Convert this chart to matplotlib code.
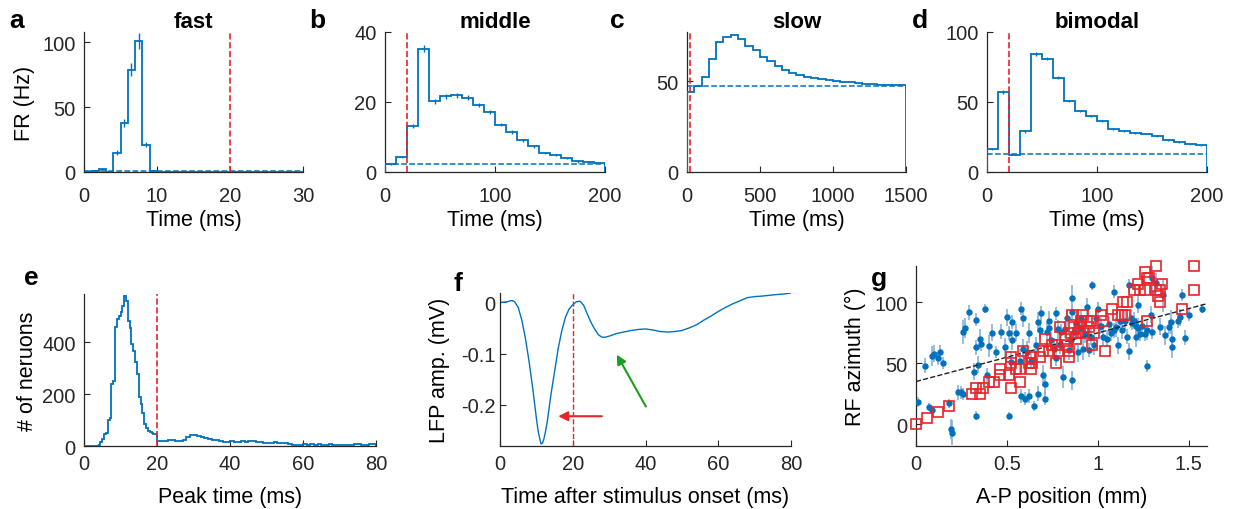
import numpy as np
import matplotlib
matplotlib.use('Agg')
import matplotlib.pyplot as plt

BLUE = '#0072BD'
RED = '#E8242A'
ERRBLUE = '#86B2D8'
AXCOL = '#262626'

# ---- panel a: fast (1 ms bins, 0-30 ms)
FAST_EDGES = np.arange(0, 31, 1)
FAST_FR = [0, 1, 2, 0, 15, 38, 79, 101, 21, 1] + [0] * 20
FAST_ERR = [0, 0.5, 0.8, 0, 2, 3, 5, 6, 2, 0.5] + [0] * 20
FAST_BASE = 0.4

# ---- panel b: middle (10 ms bins, 0-200 ms)
MID_EDGES = np.arange(0, 201, 10)
MID_FR = [2.4, 4.3, 13.1, 35.2, 20.2, 21.6, 21.9, 21.2, 19.2, 17.1,
          13.5, 11.4, 9.0, 7.3, 5.5, 4.8, 4.0, 3.0, 2.9, 2.7]
MID_ERR = [0.3, 0.4, 0.6, 1.0, 0.7, 0.7, 0.7, 0.7, 0.6, 0.6,
           0.5, 0.5, 0.4, 0.4, 0.3, 0.3, 0.3, 0.3, 0.2, 0.2]
MID_BASE = 2.4

# ---- panel c: slow (50 ms bins, 0-1500 ms)
SLOW_EDGES = np.arange(0, 1501, 50)
SLOW_FR = [44.0, 47.3, 52.4, 62.2, 71.5, 74.5, 75.6, 73.1, 69.5, 66.9,
           63.3, 60.9, 58.5, 56.0, 54.2, 53.1, 52.2, 51.5, 50.9, 50.4,
           49.8, 49.6, 49.4, 49.1, 48.6, 48.2, 48.0, 47.9, 47.8, 47.6]
SLOW_BASE = 47.3

# ---- panel d: bimodal (10 ms bins, 0-200 ms)
BI_EDGES = np.arange(0, 201, 10)
BI_FR = [16.2, 57.1, 12.4, 29.0, 84.5, 81.0, 67.4, 50.7, 43.6, 39.8,
         36.2, 31.0, 29.3, 28.1, 27.4, 25.7, 22.9, 21.4, 19.8, 19.0]
BI_ERR = [0.8, 1.2, 0.6, 0.9, 1.4, 1.3, 1.2, 1.0, 0.9, 0.8,
          0.8, 0.7, 0.7, 0.7, 0.6, 0.6, 0.6, 0.6, 0.5, 0.5]
BI_BASE = 12.9

# ---- panel e: peak time histogram
PEAK_EDGES = np.concatenate([np.arange(0, 20, 0.5), np.arange(20, 81, 1)])
PEAK_N = ([0] * 8 +
          [5, 15, 28, 45, 50, 100, 108, 240, 250, 460,
           490, 500, 515, 540, 578, 560, 480, 455, 392, 367,
           322, 277, 187, 162, 129, 85, 69, 59, 55, 52,
           48, 45] +
          [18, 20, 19, 22, 24, 21, 20, 23, 35, 42,
           41, 38, 33, 30, 27, 24, 22, 20, 17, 15,
           18, 16, 17, 19, 17, 20, 18, 15, 14, 13,
           12, 12, 14, 11, 12, 10, 8, 5, 4, 5,
           6, 5, 6, 4, 6, 5, 4, 7, 5, 3,
           2, 3, 2, 3, 6, 8, 4, 5, 6, 8])

# ---- panel f: mean LFP
LFP_T = [0, 1, 2, 3, 3.5, 4, 5, 6, 7, 8, 9, 10, 10.5, 11, 11.3, 11.7, 12, 12.5, 13, 14,
         15, 16, 17, 18, 19, 20, 21, 22, 23, 24, 25, 26, 27, 28, 29, 30,
         32, 34, 36, 38, 40, 42, 44, 46, 48, 50, 52, 54, 56, 58, 60,
         62, 64, 66, 68, 70, 72, 74, 76, 78, 80]
LFP_MV = [0, 0, 0.001, 0.003, 0.003, 0.001, -0.01, -0.035, -0.071, -0.116, -0.168, -0.226,
          -0.252, -0.268, -0.276, -0.274, -0.268, -0.252, -0.232, -0.18,
          -0.135, -0.09, -0.055, -0.029, -0.013, -0.005, 0.001, 0.002, -0.006, -0.023,
          -0.039, -0.052, -0.063, -0.068, -0.068, -0.066,
          -0.061, -0.058, -0.055, -0.053, -0.052, -0.054, -0.057, -0.058, -0.057, -0.055,
          -0.05, -0.044, -0.035, -0.027, -0.018,
          -0.010, -0.003, 0.003, 0.009, 0.011, 0.012, 0.0135, 0.015, 0.016, 0.018]

# ---- panel g: RF azimuth vs A-P position
AP_X = [0.01, 0.05, 0.07, 0.09, 0.09, 0.10, 0.12, 0.13, 0.15, 0.18,
        0.19, 0.20, 0.23, 0.25, 0.26, 0.26, 0.27, 0.29, 0.32, 0.33,
        0.33, 0.33, 0.34, 0.35, 0.36, 0.38, 0.39, 0.40, 0.42, 0.44,
        0.47, 0.49, 0.50, 0.51, 0.51, 0.52, 0.53, 0.53, 0.55, 0.57,
        0.58, 0.58, 0.59, 0.59, 0.60, 0.61, 0.62, 0.62, 0.63, 0.65,
        0.66, 0.67, 0.67, 0.68, 0.69, 0.70, 0.71, 0.71, 0.72, 0.73,
        0.73, 0.74, 0.76, 0.77, 0.77, 0.78, 0.79, 0.80, 0.81, 0.82,
        0.83, 0.84, 0.85, 0.86, 0.86, 0.86, 0.87, 0.88, 0.89, 0.90,
        0.91, 0.92, 0.93, 0.94, 0.95, 0.96, 0.97, 0.98, 0.99, 1.00,
        1.01, 1.02, 1.03, 1.05, 1.06, 1.07, 1.09, 1.09, 1.10, 1.11,
        1.12, 1.13, 1.15, 1.16, 1.17, 1.17, 1.18, 1.19, 1.20, 1.21,
        1.21, 1.22, 1.22, 1.23, 1.24, 1.26, 1.27, 1.27, 1.30, 1.29,
        1.30, 1.32, 1.34, 1.36, 1.37, 1.39, 1.40, 1.41, 1.41, 1.44,
        1.45, 1.46, 1.48, 1.50, 1.57]
AP_AZ = [18, 48, 14, 12, 56, 58, 54, 59, 50, 17,
         -4, -7, 26, 26, 25, 76, 79, 92, 43, 86,
         63, 7, 49, 70, 66, 95, 40, 64, 75, 59,
         76, 63, 88, 75, 7, 51, 84, 69, 75, 52,
         23, 95, 62, 87, 21, 59, 23, 75, 52, 15,
         65, 25, 84, 77, 91, 40, 33, 21, 76, 79,
         85, 69, 62, 54, 91, 78, 65, 76, 39, 78,
         87, 61, 69, 104, 36, 92, 76, 83, 59, 79,
         87, 62, 74, 96, 61, 72, 114, 65, 87, 95,
         81, 81, 72, 70, 82, 75, 77, 109, 80, 65,
         85, 77, 85, 72, 60, 114, 87, 83, 85, 72,
         81, 98, 79, 74, 81, 74, 48, 77, 120, 90,
         76, 116, 80, 106, 73, 80, 84, 70, 63, 85,
         88, 106, 71, 90, 95]
AP_ERR = [4, 6, 3, 3, 8, 7, 5, 6, 5, 4,
          8, 10, 6, 5, 5, 10, 8, 6, 7, 5,
          6, 4, 7, 8, 6, 4, 6, 9, 7, 5,
          6, 8, 7, 6, 3, 9, 6, 8, 7, 10,
          6, 5, 8, 7, 5, 9, 6, 8, 7, 4,
          7, 6, 8, 7, 6, 9, 8, 5, 7, 6,
          8, 7, 9, 6, 5, 8, 7, 6, 9, 7,
          6, 8, 7, 10, 8, 6, 7, 6, 8, 7,
          6, 9, 7, 8, 6, 7, 4, 8, 6, 5,
          7, 6, 8, 7, 6, 7, 6, 5, 8, 7,
          6, 7, 8, 6, 7, 5, 8, 6, 7, 9,
          6, 7, 8, 6, 7, 6, 5, 8, 12, 7,
          6, 8, 7, 14, 8, 6, 10, 7, 9, 6,
          7, 5, 6, 5, 4]
SQ_X = [0.00, 0.06, 0.12, 0.18, 0.31, 0.33, 0.35, 0.37, 0.40, 0.43,
        0.46, 0.46, 0.51, 0.52, 0.52, 0.52, 0.55, 0.57, 0.57, 0.59,
        0.62, 0.63, 0.64, 0.63, 0.68, 0.70, 0.71, 0.73, 0.75, 0.77,
        0.77, 0.78, 0.79, 0.82, 0.83, 0.84, 0.84, 0.85, 0.86, 0.87,
        0.88, 0.89, 0.90, 0.91, 0.92, 0.92, 0.94, 0.95, 0.96, 0.97,
        0.98, 1.02, 1.03, 1.04, 1.08, 1.11, 1.13, 1.15, 1.14, 1.16,
        1.20, 1.22, 1.23, 1.26, 1.26, 1.27, 1.28, 1.27, 1.32, 1.32,
        1.33, 1.34, 1.34, 1.35, 1.46, 1.53, 1.53]
SQ_AZ = [0, 5, 10, 15, 25, 30, 25, 30, 35, 35,
         40, 45, 40, 50, 55, 30, 45, 45, 35, 60,
         50, 55, 50, 45, 55, 60, 70, 60, 65, 65,
         50, 60, 80, 70, 65, 60, 55, 75, 90, 80,
         70, 75, 80, 85, 90, 75, 85, 80, 85, 65,
         75, 90, 85, 60, 95, 90, 90, 90, 100, 100,
         110, 115, 110, 110, 125, 120, 120, 85, 130, 110,
         105, 100, 110, 115, 95, 130, 110]
FIT_X = [0, 1.6]
FIT_AZ = [35, 99]

TICK_FS = 14.5
LABEL_FS = 15.5
TITLE_FS = 16

plt.rcParams.update({
    'font.family': ['Liberation Sans', 'DejaVu Sans'],
    'font.size': TICK_FS,
    'axes.unicode_minus': False,
    'axes.linewidth': 0.9,
    'axes.edgecolor': AXCOL,
    'xtick.color': AXCOL,
    'ytick.color': AXCOL,
    'xtick.direction': 'in',
    'ytick.direction': 'in',
    'xtick.major.size': 4,
    'ytick.major.size': 4,
    'xtick.major.pad': 6,
    'ytick.major.pad': 6,
})

fig = plt.figure(figsize=(12.34, 5.10), dpi=100, facecolor='white')


def style(ax):
    for s in ('top', 'right'):
        ax.spines[s].set_visible(False)
    ax.tick_params(labelsize=TICK_FS)


def psth(rect, edges, fr, err, base, xlim, ylim, xticks, yticks, title):
    ax = fig.add_axes(rect)
    style(ax)
    ax.tick_params(axis='x', pad=10)
    ax.stairs(fr, edges, baseline=0, color=BLUE, lw=1.3, zorder=3)
    if err is not None:
        centers = (edges[:-1] + edges[1:]) / 2
        ax.errorbar(centers, fr, yerr=err, fmt='none', ecolor=BLUE,
                    elinewidth=1.0, zorder=3)
    ax.plot(xlim, [base, base], '--', color=BLUE, lw=1.1, zorder=2)
    ax.axvline(20, color=RED, ls='--', lw=1.2, zorder=4)
    ax.set_xlim(xlim)
    ax.set_ylim(ylim)
    ax.set_xticks(xticks)
    ax.set_yticks(yticks)
    ax.set_xlabel('Time (ms)', fontsize=LABEL_FS, labelpad=3)
    ax.set_title(title, fontsize=TITLE_FS, fontweight='bold', pad=2)
    return ax


ax_a = psth([0.0681, 0.6608, 0.1775, 0.2745], FAST_EDGES, FAST_FR, FAST_ERR,
            FAST_BASE, (0, 30), (0, 108), [0, 10, 20, 30], [0, 50, 100], 'fast')
ax_a.set_ylabel('FR (Hz)', fontsize=LABEL_FS, labelpad=5)
psth([0.3120, 0.6608, 0.1783, 0.2745], MID_EDGES, MID_FR, MID_ERR,
     MID_BASE, (0, 200), (0, 40), [0, 100, 200], [0, 20, 40], 'middle')
psth([0.5567, 0.6608, 0.1775, 0.2745], SLOW_EDGES, SLOW_FR, None,
     SLOW_BASE, (0, 1500), (0, 77), [0, 500, 1000, 1500], [0, 50], 'slow')
psth([0.7998, 0.6608, 0.1783, 0.2745], BI_EDGES, BI_FR, BI_ERR,
     BI_BASE, (0, 200), (0, 100), [0, 100, 200], [0, 50, 100], 'bimodal')

# panel e
ax_e = fig.add_axes([0.0681, 0.1235, 0.2366, 0.298])
style(ax_e)
ax_e.stairs(PEAK_N, PEAK_EDGES, baseline=0, color=BLUE, lw=1.3, zorder=3)
ax_e.axvline(20, color=RED, ls='--', lw=1.2, zorder=4)
ax_e.set_xlim(0, 80)
ax_e.set_ylim(0, 585)
ax_e.set_xticks([0, 20, 40, 60, 80])
ax_e.set_yticks([0, 200, 400])
ax_e.set_xlabel('Peak time (ms)', fontsize=LABEL_FS, labelpad=9)
ax_e.set_ylabel('# of neruons', fontsize=LABEL_FS, labelpad=3)

# panel f
ax_f = fig.add_axes([0.4052, 0.1235, 0.2358, 0.300])
style(ax_f)
ax_f.tick_params(axis='y', pad=3)
ax_f.plot(LFP_T, LFP_MV, color=BLUE, lw=1.0)
ax_f.axvline(20, color=RED, ls='--', lw=1.0)
ax_f.annotate('', xy=(16, -0.222), xytext=(28, -0.222),
              arrowprops=dict(arrowstyle='-|>', color=RED, lw=1.5,
                              mutation_scale=14, shrinkA=0, shrinkB=0))
ax_f.annotate('', xy=(32.1, -0.102), xytext=(40.1, -0.203),
              arrowprops=dict(arrowstyle='-|>', color='#1E9E1E', lw=1.5,
                              mutation_scale=14, shrinkA=0, shrinkB=0))
ax_f.set_xlim(0, 80)
ax_f.set_ylim(-0.28, 0.018)
ax_f.set_xticks([0, 20, 40, 60, 80])
ax_f.set_yticks([-0.2, -0.1, 0])
ax_f.set_yticklabels(['-0.2', '-0.1', '0'])
ax_f.set_xlabel('Time after stimulus onset (ms)', fontsize=LABEL_FS, labelpad=9)
ax_f.set_ylabel('LFP amp. (mV)', fontsize=LABEL_FS, labelpad=8)

# panel g
ax_g = fig.add_axes([0.7423, 0.1235, 0.2358, 0.353])
style(ax_g)
ax_g.errorbar(AP_X, AP_AZ, yerr=AP_ERR, fmt='o', ms=3.6, color=BLUE,
              mec=BLUE, ecolor=ERRBLUE, elinewidth=1.2, zorder=3)
ax_g.plot(FIT_X, FIT_AZ, '--', color='#222222', lw=1.0, zorder=4)
ax_g.plot(SQ_X, SQ_AZ, 's', ms=7, mfc='none', mec=RED, mew=1.2, zorder=5,
          clip_on=False)
ax_g.set_xlim(0, 1.6)
ax_g.set_ylim(-18, 130)
ax_g.set_xticks([0, 0.5, 1, 1.5])
ax_g.set_xticklabels(['0', '0.5', '1', '1.5'])
ax_g.set_yticks([0, 50, 100])
ax_g.set_xlabel('A-P position (mm)', fontsize=LABEL_FS, labelpad=9)
ax_g.set_ylabel('RF azimuth (°)', fontsize=LABEL_FS, labelpad=6)

# panel letters
for lbl, x, y in [('a', 9, 28), ('b', 309, 28), ('c', 610, 28), ('d', 912, 28),
                  ('e', 24, 285), ('f', 454, 291), ('g', 871, 286)]:
    fig.text(x / 1234, 1 - y / 510, lbl, fontsize=19, fontweight='bold',
             ha='left', va='baseline')

fig.savefig('out.png', dpi=100, facecolor='white')
